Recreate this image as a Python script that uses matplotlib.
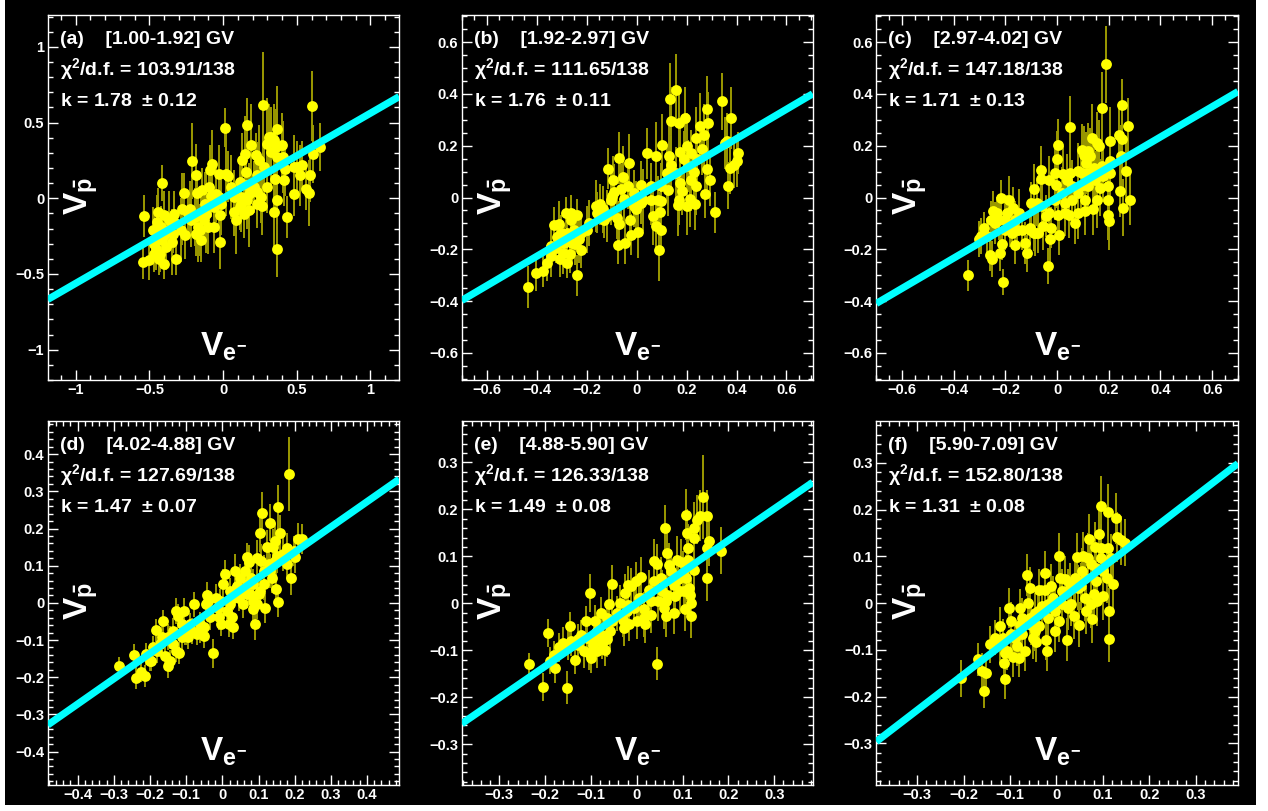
import matplotlib
matplotlib.use("Agg")
import matplotlib.pyplot as plt
import numpy as np
from matplotlib.ticker import MultipleLocator, FuncFormatter
from matplotlib.patches import Rectangle

plt.rcParams['font.family'] = ['Liberation Sans', 'DejaVu Sans']
plt.rcParams['font.weight'] = 'bold'
plt.rcParams['mathtext.fontset'] = 'custom'
plt.rcParams['mathtext.rm'] = 'Liberation Sans:bold'
plt.rcParams['mathtext.it'] = 'Liberation Sans:bold'
plt.rcParams['mathtext.bf'] = 'Liberation Sans:bold'
plt.rcParams['mathtext.sf'] = 'Liberation Sans'

# ---------------- data ----------------
panel_tags = ["(a)", "(b)", "(c)", "(d)", "(e)", "(f)"]
rigidity_bins = ["[1.00-1.92] GV", "[1.92-2.97] GV", "[2.97-4.02] GV",
                 "[4.02-4.88] GV", "[4.88-5.90] GV", "[5.90-7.09] GV"]
chi2_text = ["103.91/138", "111.65/138", "147.18/138",
             "127.69/138", "126.33/138", "152.80/138"]
k_values = [1.78, 1.76, 1.71, 1.47, 1.49, 1.31]
k_errors = ["0.12", "0.11", "0.13", "0.07", "0.08", "0.08"]

a_x = [-0.534,-0.545,-0.50,-0.444,-0.417,-0.448,-0.477,-0.466,-0.455,-0.426,
       -0.399,-0.399,-0.365,-0.342,-0.349,-0.322,-0.414,-0.444,-0.387,-0.286,
       -0.268,-0.282,-0.257,-0.214,-0.227,-0.185,-0.178,-0.191,-0.173,-0.155,
       -0.14,-0.124,-0.117,-0.101,-0.092,-0.072,-0.079,-0.061,-0.027,-0.02,
       -0.023,-0.027,0.011,0.018,0.034,-0.016,0.074,0.086,0.115,0.124,
       0.146,0.153,0.164,0.176,0.191,0.176,0.142,0.221,0.232,0.227,
       0.243,0.255,0.27,0.266,0.295,0.311,0.327,0.345,0.363,0.356,
       0.367,0.349,0.363,0.345,0.367,0.401,0.408,0.423,0.435,0.484,
       0.502,0.52,0.536,0.565,0.581,0.588,0.601,0.608,0.66,0.327,
       0.074,0.119,0.164,0.209,-0.128,-0.151,-0.218,-0.241,-0.331,-0.376,
       -0.421,-0.47,-0.432,-0.185,-0.095,-0.05,0.052,0.131,0.277,0.3,
       0.232,0.115,-0.151,-0.061,-0.331,-0.466,-0.399,0.153,0.412,0.48]
a_y = [-0.119,-0.421,-0.41,-0.09,0.101,-0.156,-0.211,-0.278,-0.333,-0.366,
       -0.432,-0.112,-0.145,-0.233,-0.289,-0.399,-0.278,-0.233,-0.322,-0.211,
       0.035,-0.07,-0.24,0.247,-0.068,0.156,0.035,-0.123,-0.189,-0.211,
       0.053,-0.035,-0.101,-0.189,0.189,0.229,0.013,-0.189,0.009,-0.112,
       -0.289,0.163,0.467,0.163,0.145,-0.035,-0.09,-0.145,0.108,0.009,
       0.291,0.174,0.482,-0.079,0.35,0.031,-0.101,0.284,0.152,0.042,
       0.255,0.009,0.619,-0.053,0.361,0.405,0.306,0.383,0.46,0.339,
       0.273,0.13,-0.013,-0.09,-0.333,0.35,0.273,0.196,-0.123,0.031,
       0.207,0.152,0.218,0.064,0.035,0.152,0.608,0.291,0.339,0.405,
       0.009,-0.035,-0.013,0.075,-0.145,-0.101,-0.145,-0.101,-0.156,-0.211,
       -0.189,-0.3,-0.399,-0.233,0.075,0.031,0.075,0.251,0.207,0.075,
       -0.035,-0.057,-0.278,-0.057,-0.101,-0.366,-0.244,0.086,0.119,0.207]
a_err = [0.14,0.11,0.13,0.16,0.12,0.18,0.15,0.20,0.14,0.12,
         0.10,0.16,0.19,0.13,0.22,0.11,0.17,0.14,0.15,0.21,
         0.13,0.24,0.16,0.25,0.18,0.20,0.14,0.19,0.23,0.17,
         0.15,0.21,0.26,0.18,0.16,0.22,0.14,0.17,0.20,0.15,
         0.18,0.19,0.13,0.28,0.17,0.21,0.16,0.22,0.14,0.23,
         0.25,0.19,0.18,0.24,0.27,0.20,0.16,0.15,0.22,0.21,
         0.23,0.17,0.35,0.19,0.30,0.22,0.26,0.24,0.28,0.25,
         0.29,0.20,0.16,0.23,0.19,0.21,0.24,0.18,0.14,0.15,
         0.17,0.20,0.16,0.14,0.22,0.18,0.23,0.19,0.16,0.20,
         0.18,0.15,0.19,0.17,0.16,0.14,0.18,0.15,0.17,0.13,
         0.14,0.12,0.11,0.15,0.16,0.19,0.21,0.18,0.20,0.17,
         0.16,0.15,0.14,0.13,0.15,0.12,0.14,0.19,0.17,0.21]

b_x = [-0.435,-0.404,-0.373,-0.36,-0.341,-0.331,-0.311,-0.317,-0.307,-0.293,
       -0.281,-0.277,-0.264,-0.261,-0.251,-0.267,-0.237,-0.231,-0.237,-0.224,
       -0.248,-0.291,-0.324,-0.191,-0.164,-0.147,-0.133,-0.131,-0.113,-0.104,
       -0.093,-0.091,-0.08,-0.071,-0.073,-0.069,-0.053,-0.048,-0.031,-0.035,
       -0.027,-0.021,-0.011,-0.004,0.005,0.016,0.027,0.043,0.056,0.067,
       0.077,0.076,0.085,0.089,0.093,0.099,0.101,0.123,0.125,0.133,
       0.136,0.139,0.156,0.165,0.171,0.173,0.173,0.183,0.193,0.203,
       0.207,0.213,0.219,0.229,0.232,0.236,0.237,0.253,0.263,0.269,
       0.272,0.28,0.283,0.285,0.293,0.313,0.343,0.352,0.365,0.373,
       0.379,0.389,0.4,0.407,0.36,0.096,0.056,0.016,-0.051,-0.117,
       -0.157,-0.197,-0.257,-0.344,0.156,0.189,0.216,0.169,-0.011,0.096,
       -0.064,-0.097,-0.304,-0.277,-0.224,0.243,0.129,0.203]
b_y = [-0.345,-0.293,-0.284,-0.252,-0.227,-0.108,-0.104,-0.152,-0.239,-0.214,
       -0.059,-0.136,-0.085,-0.059,-0.124,-0.22,-0.066,-0.162,-0.301,-0.203,
       -0.181,-0.175,-0.194,-0.098,-0.033,-0.027,-0.046,-0.085,0.111,-0.008,
       0.069,0.021,-0.079,-0.104,-0.185,0.153,0.08,-0.175,0.134,0.044,
       -0.085,-0.143,0.018,-0.046,-0.134,0.05,-0.008,0.17,0.044,-0.072,
       0.16,-0.111,-0.008,-0.201,-0.057,-0.124,0.203,0.095,0.028,0.381,
       0.295,0.127,0.414,-0.03,0.288,0.175,0.057,0.024,0.308,0.198,
       0.121,-0.005,0.069,0.098,-0.027,0.23,0.044,0.275,0.188,0.243,
       0.012,0.34,0.111,0.286,0.069,-0.057,0.372,0.211,0.046,0.115,
       0.308,0.127,0.14,0.172,0.218,-0.014,-0.008,-0.021,-0.005,-0.072,
       -0.059,-0.124,-0.175,-0.188,0.095,0.147,0.172,-0.008,-0.033,0.044,
       0.031,0.005,-0.136,-0.252,-0.136,0.147,0.16,-0.033]
b_err = [0.08,0.07,0.06,0.07,0.08,0.07,0.09,0.06,0.07,0.08,
         0.06,0.08,0.09,0.07,0.08,0.07,0.06,0.09,0.08,0.07,
         0.08,0.07,0.06,0.09,0.10,0.08,0.09,0.07,0.08,0.10,
         0.09,0.11,0.08,0.09,0.07,0.10,0.12,0.08,0.11,0.09,
         0.10,0.08,0.09,0.11,0.10,0.09,0.12,0.10,0.09,0.11,
         0.13,0.10,0.09,0.12,0.08,0.10,0.12,0.11,0.10,0.14,
         0.13,0.11,0.14,0.12,0.13,0.10,0.11,0.09,0.12,0.13,
         0.10,0.11,0.12,0.09,0.10,0.12,0.11,0.13,0.10,0.12,
         0.09,0.13,0.11,0.12,0.10,0.08,0.11,0.10,0.09,0.10,
         0.12,0.09,0.10,0.08,0.11,0.09,0.10,0.08,0.09,0.10,
         0.08,0.09,0.08,0.07,0.10,0.11,0.09,0.10,0.08,0.09,
         0.10,0.09,0.07,0.06,0.08,0.10,0.12,0.11]

c_x = [-0.346,-0.301,-0.284,-0.293,-0.259,-0.25,-0.255,-0.233,-0.224,-0.22,
       -0.216,-0.214,-0.211,-0.203,-0.194,-0.185,-0.175,-0.169,-0.165,-0.156,
       -0.162,-0.126,-0.117,-0.107,-0.1,-0.091,-0.088,-0.079,-0.075,-0.064,
       -0.063,-0.053,-0.044,-0.036,-0.027,-0.023,-0.01,-0.005,0.0,0.003,
       0.005,0.008,0.018,0.024,0.031,0.037,0.048,0.046,0.059,0.069,
       0.08,0.082,0.093,0.102,0.108,0.111,0.118,0.121,0.134,0.14,
       0.144,0.153,0.162,0.166,0.172,0.179,0.188,0.196,0.196,0.198,
       0.201,0.205,0.205,0.239,0.243,0.246,0.25,0.252,0.255,0.265,
       0.275,0.283,0.121,0.095,0.147,0.172,0.082,0.057,0.031,-0.033,
       -0.059,-0.105,-0.149,-0.201,-0.239,-0.272,-0.181,-0.033,-0.008,0.106,
       0.153,0.095,0.127,0.05,0.205,-0.136,-0.085,-0.253]
c_y = [-0.301,-0.16,-0.117,-0.149,-0.224,-0.053,-0.085,-0.059,-0.085,-0.214,
       -0.001,-0.181,-0.327,-0.124,-0.059,-0.008,-0.136,-0.04,-0.185,-0.124,
       -0.085,-0.175,-0.216,-0.117,-0.021,-0.136,0.031,-0.021,-0.136,0.108,
       0.072,-0.111,-0.072,-0.265,-0.162,-0.117,0.095,0.05,0.147,0.203,
       -0.066,-0.143,0.018,0.089,-0.021,0.069,0.273,-0.066,-0.008,-0.098,
       0.102,-0.059,0.044,0.166,-0.053,0.134,0.179,0.044,0.23,-0.046,
       0.115,0.211,0.198,0.037,0.346,0.082,0.514,0.044,-0.008,-0.066,
       -0.091,0.218,0.14,0.243,0.024,0.16,0.227,0.359,-0.04,0.102,
       0.275,-0.008,0.095,0.095,0.069,0.121,0.018,0.044,-0.059,-0.059,
       -0.033,-0.124,-0.059,-0.085,-0.098,-0.149,-0.111,0.069,-0.008,-0.008,
       -0.008,0.185,0.16,0.095,0.095,-0.124,-0.136,-0.239]
c_err = [0.06,0.07,0.06,0.07,0.06,0.08,0.07,0.06,0.08,0.07,
         0.07,0.06,0.05,0.08,0.07,0.09,0.06,0.08,0.07,0.08,
         0.07,0.08,0.07,0.09,0.08,0.07,0.10,0.09,0.08,0.09,
         0.10,0.09,0.08,0.07,0.09,0.08,0.10,0.09,0.11,0.10,
         0.09,0.08,0.10,0.11,0.09,0.10,0.12,0.09,0.10,0.08,
         0.11,0.10,0.12,0.11,0.09,0.12,0.11,0.10,0.13,0.10,
         0.11,0.12,0.10,0.11,0.14,0.10,0.15,0.11,0.12,0.10,
         0.11,0.13,0.12,0.11,0.10,0.12,0.13,0.10,0.11,0.12,
         0.11,0.10,0.09,0.10,0.11,0.10,0.09,0.10,0.09,0.08,
         0.09,0.08,0.09,0.07,0.08,0.07,0.08,0.09,0.08,0.10,
         0.11,0.10,0.11,0.09,0.10,0.08,0.09,0.07]

d_x = [-0.287,-0.244,-0.238,-0.224,-0.214,-0.21,-0.196,-0.191,-0.184,-0.173,
       -0.164,-0.159,-0.15,-0.15,-0.145,-0.136,-0.128,-0.127,-0.122,-0.119,
       -0.113,-0.106,-0.099,-0.094,-0.085,-0.079,-0.071,-0.062,-0.051,-0.045,
       -0.042,-0.039,-0.025,-0.018,-0.008,-0.005,0.003,0.008,0.012,0.019,
       0.021,0.026,0.03,0.035,0.04,0.047,0.056,0.063,0.069,0.075,
       0.079,0.084,0.086,0.091,0.095,0.1,0.103,0.106,0.109,0.114,
       0.118,0.123,0.128,0.132,0.137,0.141,0.146,0.149,0.153,0.155,
       0.158,0.151,0.18,0.18,0.183,0.189,0.197,0.201,0.209,0.22,
       0.077,0.049,0.021,-0.006,-0.034,-0.062,-0.09,-0.113,-0.145,-0.168,
       -0.182,0.086,0.114,0.132,0.104,0.067,0.03,-0.011,-0.051,-0.104,
       -0.136,-0.199,0.169,0.146,0.095,0.067,0.049]
d_y = [-0.17,-0.14,-0.203,-0.187,-0.196,-0.138,-0.156,-0.12,-0.074,-0.111,
       -0.05,-0.143,-0.17,-0.093,-0.156,-0.075,-0.129,-0.022,-0.035,-0.134,
       -0.093,-0.022,-0.084,-0.093,-0.075,-0.004,-0.084,-0.075,-0.089,-0.004,
       0.022,0.005,-0.136,0.014,-0.038,-0.057,0.05,0.077,-0.022,-0.057,
       -0.004,-0.038,-0.066,0.086,0.046,0.014,-0.004,0.086,0.05,0.111,
       0.068,0.005,-0.017,-0.057,0.12,0.023,0.187,0.113,0.243,0.086,
       -0.013,0.149,0.104,0.216,0.068,0.149,0.167,0.037,0.001,0.257,
       0.187,0.126,0.147,0.104,0.346,0.066,0.14,0.122,0.171,0.171,
       0.023,0.032,0.032,0.005,-0.039,-0.057,-0.057,-0.057,-0.093,-0.093,
       -0.129,0.05,0.05,0.086,0.032,0.023,0.014,-0.013,-0.066,-0.084,
       -0.111,-0.156,0.131,0.113,-0.004,0.122,0.068]
d_err = [0.025,0.03,0.03,0.025,0.03,0.03,0.028,0.032,0.03,0.035,
         0.03,0.028,0.032,0.035,0.03,0.033,0.03,0.035,0.032,0.03,
         0.034,0.036,0.03,0.032,0.035,0.033,0.03,0.034,0.032,0.036,
         0.035,0.03,0.04,0.038,0.035,0.032,0.04,0.038,0.035,0.034,
         0.036,0.038,0.032,0.045,0.04,0.036,0.038,0.042,0.04,0.045,
         0.04,0.038,0.04,0.042,0.05,0.04,0.05,0.045,0.055,0.042,
         0.04,0.048,0.045,0.05,0.042,0.05,0.048,0.044,0.04,0.06,
         0.05,0.045,0.042,0.04,0.10,0.045,0.04,0.042,0.045,0.04,
         0.035,0.036,0.034,0.032,0.033,0.032,0.03,0.032,0.03,0.03,
         0.032,0.04,0.042,0.045,0.04,0.036,0.034,0.032,0.033,0.03,
         0.03,0.028,0.045,0.042,0.04,0.038,0.036]

e_x = [-0.236,-0.204,-0.193,-0.189,-0.18,-0.178,-0.169,-0.161,-0.153,-0.146,
       -0.143,-0.135,-0.129,-0.122,-0.115,-0.11,-0.104,-0.102,-0.1,-0.095,
       -0.092,-0.086,-0.079,-0.075,-0.07,-0.064,-0.06,-0.058,-0.055,-0.053,
       -0.036,-0.031,-0.026,-0.022,-0.017,-0.013,-0.006,-0.002,0.001,0.005,
       0.01,0.015,0.017,0.027,0.031,0.038,0.045,0.045,0.047,0.056,
       0.06,0.062,0.063,0.065,0.067,0.071,0.081,0.083,0.087,0.09,
       0.095,0.1,0.105,0.108,0.109,0.111,0.112,0.114,0.116,0.118,
       0.119,0.124,0.124,0.132,0.138,0.145,0.153,0.154,0.158,0.183,
       0.081,0.103,0.052,0.031,0.009,-0.02,-0.042,-0.064,-0.086,-0.108,
       -0.129,-0.151,-0.075,-0.02,0.038,0.074,0.096,0.125,0.016,0.063,
       0.107,-0.028,-0.093,0.154]
e_y = [-0.13,-0.179,-0.063,-0.122,-0.111,-0.138,-0.094,-0.084,-0.18,-0.049,
       -0.081,-0.12,-0.077,-0.067,-0.102,-0.038,-0.106,0.022,-0.116,-0.088,
       -0.038,-0.102,-0.021,-0.067,-0.099,-0.077,-0.001,-0.06,0.041,-0.038,
       0.001,-0.035,0.022,-0.017,-0.045,0.036,-0.01,0.047,-0.038,0.011,
       0.057,-0.013,-0.045,0.029,-0.024,0.091,0.084,-0.129,0.004,0.026,
       -0.01,0.16,-0.028,0.107,0.018,0.082,-0.021,0.015,0.093,0.052,
       0.026,0.065,-0.013,0.189,0.15,0.118,0.093,0.033,0.018,-0.028,
       0.001,0.16,0.072,0.178,0.187,0.226,0.054,0.187,0.132,0.112,
       0.04,0.026,0.054,0.004,0.011,-0.003,-0.021,-0.031,-0.06,-0.074,
       -0.088,-0.088,-0.084,0.04,0.047,0.068,0.089,0.139,-0.031,0.004,
       0.054,-0.052,-0.074,0.118]
e_err = [0.025,0.03,0.03,0.028,0.03,0.032,0.03,0.033,0.035,0.03,
         0.032,0.03,0.034,0.032,0.035,0.033,0.036,0.04,0.033,0.034,
         0.035,0.036,0.034,0.037,0.035,0.038,0.036,0.037,0.04,0.036,
         0.038,0.037,0.04,0.038,0.036,0.04,0.038,0.042,0.037,0.04,
         0.042,0.038,0.04,0.042,0.04,0.045,0.043,0.035,0.042,0.044,
         0.045,0.05,0.043,0.048,0.045,0.046,0.044,0.047,0.05,0.046,
         0.048,0.047,0.045,0.055,0.05,0.052,0.048,0.05,0.047,0.046,
         0.048,0.055,0.05,0.052,0.055,0.09,0.048,0.055,0.052,0.05,
         0.046,0.048,0.044,0.042,0.04,0.038,0.037,0.036,0.035,0.034,
         0.033,0.032,0.035,0.04,0.042,0.045,0.047,0.05,0.04,0.045,
         0.048,0.038,0.034,0.052]

f_x = [-0.205,-0.169,-0.161,-0.156,-0.151,-0.144,-0.133,-0.122,-0.115,-0.113,
       -0.111,-0.111,-0.106,-0.103,-0.097,-0.093,-0.09,-0.086,-0.081,-0.079,
       -0.075,-0.068,-0.064,-0.061,-0.057,-0.055,-0.05,-0.047,-0.043,-0.038,
       -0.037,-0.032,-0.025,-0.024,-0.022,-0.02,-0.018,-0.011,-0.007,-0.004,
       0.005,0.005,0.007,0.011,0.018,0.022,0.025,0.032,0.038,0.041,
       0.045,0.048,0.052,0.057,0.061,0.063,0.067,0.07,0.075,0.077,
       0.081,0.084,0.086,0.088,0.091,0.095,0.097,0.1,0.108,0.11,
       0.111,0.113,0.113,0.122,0.128,0.131,0.14,0.147,0.1,0.086,
       0.061,0.047,0.025,0.011,-0.018,-0.039,-0.057,-0.079,-0.097,-0.122,
       -0.075,-0.047,0.054,0.097,0.118,0.029,-0.004,0.075]
f_y = [-0.161,-0.12,-0.145,-0.188,-0.149,-0.088,-0.074,-0.049,-0.074,-0.128,
       -0.163,-0.106,-0.103,-0.011,-0.038,-0.115,-0.074,-0.092,-0.117,-0.011,
       -0.067,-0.103,0.061,0.001,0.033,-0.046,-0.074,-0.021,-0.083,0.029,
       -0.049,-0.006,0.065,0.029,-0.078,-0.103,-0.031,0.036,0.011,-0.017,
       0.1,-0.038,0.054,0.026,0.051,-0.078,-0.01,-0.003,-0.028,0.054,
       0.098,-0.046,0.036,0.1,0.011,-0.017,0.097,0.136,-0.003,-0.035,
       0.019,0.12,0.047,0.004,0.147,0.207,0.097,0.015,0.054,0.195,
       0.118,-0.017,-0.076,0.04,0.181,0.141,0.134,0.129,0.068,0.076,
       0.054,0.033,0.026,-0.003,-0.003,-0.017,-0.031,-0.046,-0.067,-0.088,
       -0.031,-0.06,0.068,0.118,0.097,0.04,-0.06,0.083]
f_err = [0.04,0.035,0.038,0.036,0.037,0.04,0.038,0.04,0.039,0.04,
         0.042,0.04,0.041,0.043,0.04,0.042,0.041,0.043,0.04,0.042,
         0.041,0.043,0.045,0.042,0.044,0.043,0.045,0.042,0.044,0.043,
         0.045,0.044,0.046,0.045,0.044,0.043,0.045,0.047,0.046,0.045,
         0.05,0.046,0.048,0.047,0.049,0.046,0.048,0.047,0.049,0.05,
         0.052,0.048,0.05,0.053,0.049,0.05,0.052,0.055,0.05,0.051,
         0.052,0.054,0.05,0.052,0.055,0.065,0.053,0.052,0.054,0.06,
         0.055,0.05,0.05,0.053,0.055,0.054,0.052,0.05,0.05,0.052,
         0.05,0.048,0.046,0.045,0.044,0.043,0.042,0.041,0.04,0.04,
         0.042,0.043,0.05,0.052,0.05,0.046,0.044,0.05]

# axis ranges and tick steps per panel
x_limits = [(-1.19, 1.195), (-0.70, 0.705), (-0.70, 0.70),
            (-0.483, 0.489), (-0.382, 0.384), (-0.388, 0.391)]
y_limits = [(-1.20, 1.21), (-0.705, 0.705), (-0.705, 0.705),
            (-0.49, 0.49), (-0.387, 0.389), (-0.389, 0.39)]
major_steps = [0.5, 0.2, 0.2, 0.1, 0.1, 0.1]
minor_steps = [0.1, 0.05, 0.05, 0.02, 0.02, 0.02]

series = [(a_x, a_y, a_err), (b_x, b_y, b_err), (c_x, c_y, c_err),
          (d_x, d_y, d_err), (e_x, e_y, e_err), (f_x, f_y, f_err)]

# ---------------- figure ----------------
W, H = 1268, 811
fig = plt.figure(figsize=(W / 100, H / 100), dpi=100)
fig.patch.set_facecolor('white')
fig.patches.append(Rectangle((5 / W, 6 / H), 1251 / W, 1 - 6 / H,
                             transform=fig.transFigure, facecolor='black',
                             edgecolor='none', zorder=-10))

col_px = [(47.7, 351.5), (461.7, 351.0), (876.3, 361.7)]
row_px = [(15.0, 365.0), (420.7, 364.3)]


def fmt(v, pos):
    s = ('%g' % round(v, 6))
    if s == '-0':
        s = '0'
    return s.replace('-', '\u2212')


for i in range(6):
    r, c = divmod(i, 3)
    lpx, wpx = col_px[c]
    tpx, hpx = row_px[r]
    ax = fig.add_axes([lpx / W, 1 - (tpx + hpx) / H, wpx / W, hpx / H])
    ax.set_zorder(1)
    ax.set_facecolor('black')
    x, y, err = series[i]
    x = np.asarray(x)
    y = np.asarray(y)
    err = np.asarray(err)

    ax.errorbar(x, y, yerr=err, fmt='none', ecolor='#9c9a00',
                elinewidth=1.4, capsize=0, zorder=2)
    ax.plot(x, y, 'o', color='#ffff00', ms=7.8, mec='none', zorder=3)
    xl = np.array(x_limits[i])
    ax.plot(xl, xl / k_values[i], color='#00ffff', lw=5.2,
            solid_capstyle='butt', zorder=4)

    ax.set_xlim(*x_limits[i])
    ax.set_ylim(*y_limits[i])
    for sp in ax.spines.values():
        sp.set_color('white')
        sp.set_linewidth(1.0)
    ax.xaxis.set_major_locator(MultipleLocator(major_steps[i]))
    ax.yaxis.set_major_locator(MultipleLocator(major_steps[i]))
    ax.xaxis.set_minor_locator(MultipleLocator(minor_steps[i]))
    ax.yaxis.set_minor_locator(MultipleLocator(minor_steps[i]))
    ax.xaxis.set_major_formatter(FuncFormatter(fmt))
    ax.yaxis.set_major_formatter(FuncFormatter(fmt))
    ax.tick_params(which='both', direction='in', top=True, right=True,
                   color='white', labelcolor='white', labelsize=10.5)
    ax.tick_params(which='major', length=7.5, width=1.0, pad=2.5)
    ax.tick_params(which='minor', length=3.8, width=1.0)
    for lab in ax.get_xticklabels() + ax.get_yticklabels():
        lab.set_fontweight('bold')

    tx = 12.0 / wpx
    ax.text(tx, 0.92, panel_tags[i] + "    " + rigidity_bins[i],
            transform=ax.transAxes, color='white', fontsize=14,
            fontweight='bold', va='baseline', ha='left', zorder=6)
    ax.text(tx, 0.835, r"$\mathsf{\chi}^{\mathbf{2}}$/d.f. = " + chi2_text[i],
            transform=ax.transAxes, color='white', fontsize=14,
            fontweight='bold', va='baseline', ha='left', zorder=6)
    ax.text(tx, 0.75, "k = %.2f  $\\mathsf{\\pm}$ %s" % (k_values[i], k_errors[i]),
            transform=ax.transAxes, color='white', fontsize=14,
            fontweight='bold', va='baseline', ha='left', zorder=6)

    ax.text(0.50, 0.092, r"$V_{e^{-}}$", transform=ax.transAxes,
            color='white', fontsize=24, ha='center', va='center', zorder=6)
    ax.text(34.0 / wpx, 0.504, r"$V_{\bar{p}}$", transform=ax.transAxes,
            color='white', fontsize=24, rotation=90, ha='center',
            va='center', zorder=6)

fig.savefig("out.png", dpi=100, facecolor=fig.get_facecolor())
